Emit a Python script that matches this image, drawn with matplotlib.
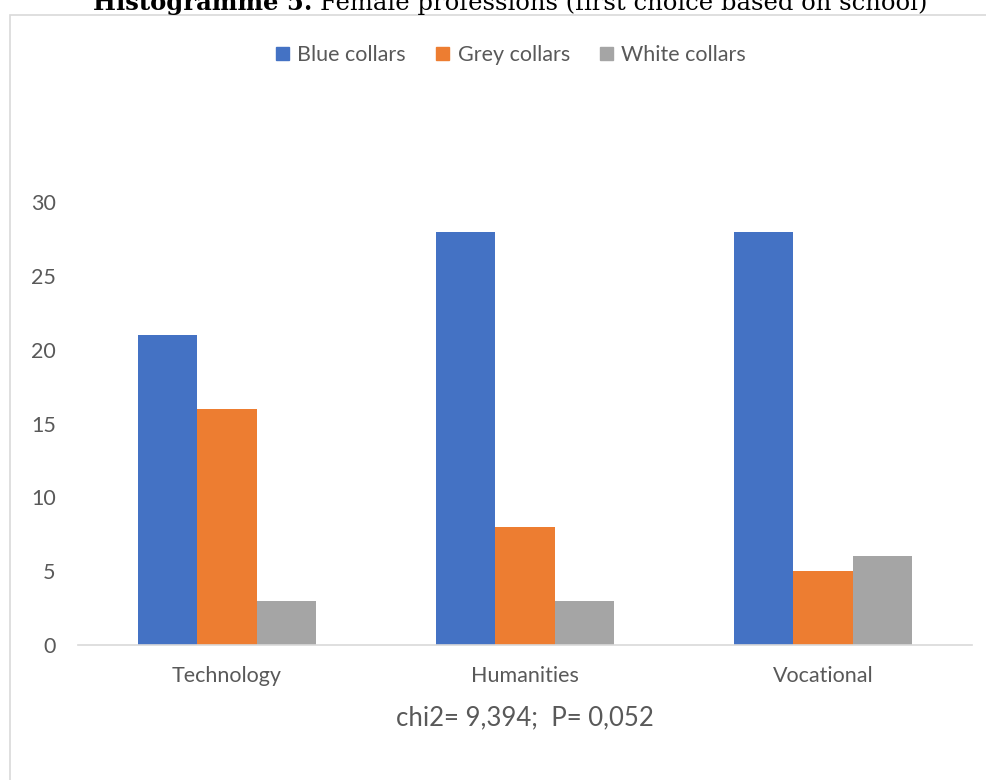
import numpy as np
import matplotlib.pyplot as plt
from matplotlib.patches import Rectangle, Patch

# school types and collar groups
schools = ["Technology", "Humanities", "Vocational"]
groups = ["Blue collars", "Grey collars", "White collars"]
blue = [21, 28, 28]
grey = [16, 8, 5]
white = [3, 3, 6]
colors = ["#4472C4", "#ED7D31", "#A5A5A5"]
yticks = [0, 5, 10, 15, 20, 25, 30]
note = "chi2= 9,394;  P= 0,052"

plt.rcParams['font.family'] = ['Lato', 'DejaVu Sans']
txt = "#595959"

fig = plt.figure(figsize=(9.87, 7.8), dpi=100)
ax = fig.add_axes([78 / 987, 135 / 780, 894 / 987, 443 / 780])

x = np.arange(len(schools))
w = 0.2
for i, (vals, col, name) in enumerate(zip([blue, grey, white], colors, groups)):
    ax.bar(x + (i - 1) * w, vals, w, color=col, label=name)

ax.set_xlim(-0.5, 2.5)
ax.set_ylim(0, 30)
ax.set_yticks(yticks)
ax.set_xticks(x)
ax.set_xticklabels(schools)
ax.tick_params(axis='both', length=0, labelsize=15.5, colors=txt)
ax.tick_params(axis='y', pad=16)
ax.tick_params(axis='x', pad=15)
for s in ['top', 'right', 'left']:
    ax.spines[s].set_visible(False)
ax.spines['bottom'].set_color('#D9D9D9')
ax.spines['bottom'].set_linewidth(1.2)

ax.set_xlabel(note, fontsize=18.5, color=txt, labelpad=14)

# legend across the top
handles = [Patch(color=c) for c in colors]
fig.legend(handles, groups, loc='center', bbox_to_anchor=(511 / 987, 1 - 55 / 780),
           ncol=3, frameon=False, fontsize=15.5, labelcolor=txt,
           handlelength=0.6, handleheight=0.6, handletextpad=0.4, columnspacing=1.4)

# chart border
fig.patches.append(Rectangle((10 / 987, -0.01), 1.0, 1 - 15 / 780 + 0.01,
                             transform=fig.transFigure, fill=False,
                             edgecolor='#D9D9D9', linewidth=1.2))

# title, bold label followed by the plain text
ty = 1 - 10 / 780
fig.text(312 / 987, ty, "Histogramme 5.", ha='right', va='baseline',
         fontsize=17.5, fontweight='bold', family='DejaVu Serif')
fig.text(320 / 987, ty, "Female professions (first choice based on school)",
         ha='left', va='baseline', fontsize=17.5, family='DejaVu Serif')

fig.savefig("out.png", dpi=100)
